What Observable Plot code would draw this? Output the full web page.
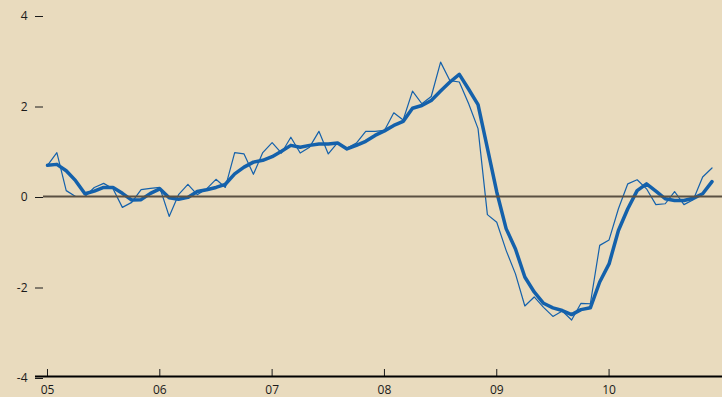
<!DOCTYPE html>
<html><head><meta charset="utf-8">
<script src="https://cdn.jsdelivr.net/npm/d3@7"></script>
<script src="https://cdn.jsdelivr.net/npm/@observablehq/plot@0.6"></script>
<style>
html,body{margin:0;padding:0;background:#E9DBBE;}
#chart svg{display:block;}
</style></head><body><div id="chart"></div>
<script>
const startYear = 2005;
const yearTicks = [2005, 2006, 2007, 2008, 2009, 2010];
const yearLabels = ["05", "06", "07", "08", "09", "10"];
const yTicks = [-4, -2, 0, 2, 4];
const monthly = [
  0.69, 0.97, 0.13, 0.00, 0.00, 0.20, 0.29, 0.17, -0.24, -0.13, 0.15, 0.18,
  0.20, -0.44, 0.04, 0.27, 0.04, 0.17, 0.38, 0.20, 0.97, 0.94, 0.49, 0.97,
  1.19, 0.96, 1.31, 0.96, 1.09, 1.44, 0.94, 1.19, 1.07, 1.18, 1.44, 1.44,
  1.46, 1.85, 1.69, 2.33, 2.05, 2.21, 2.97, 2.56, 2.53, 2.05, 1.50, -0.40,
  -0.57, -1.19, -1.71, -2.42, -2.22, -2.45, -2.65, -2.53, -2.73, -2.36, -2.37, -1.08,
  -0.96, -0.27, 0.28, 0.37, 0.17, -0.18, -0.16, 0.11, -0.18, -0.07, 0.43, 0.63
];
const average = [
  0.69, 0.71, 0.57, 0.35, 0.06, 0.12, 0.20, 0.20, 0.07, -0.08, -0.07, 0.07,
  0.17, -0.03, -0.06, -0.02, 0.11, 0.15, 0.20, 0.27, 0.50, 0.65, 0.76, 0.80,
  0.88, 1.00, 1.13, 1.09, 1.13, 1.16, 1.16, 1.18, 1.05, 1.13, 1.22, 1.35,
  1.45, 1.57, 1.66, 1.95, 2.01, 2.12, 2.33, 2.53, 2.70, 2.37, 2.03, 1.07,
  0.10, -0.71, -1.16, -1.78, -2.11, -2.36, -2.46, -2.52, -2.61, -2.50, -2.46, -1.89,
  -1.49, -0.75, -0.27, 0.13, 0.28, 0.12, -0.05, -0.09, -0.09, -0.04, 0.06, 0.33
];
const data = monthly.map((v, i) => ({t: startYear + i / 12, monthly: v, average: average[i]}));
const blue = "#1461AB";
const plot = Plot.plot({
  width: 722, height: 397,
  marginLeft: 43, marginRight: 0, marginTop: 15, marginBottom: 20,
  style: {background: "#E9DBBE", fontFamily: "'Open Sans', sans-serif", fontSize: "12px", color: "#1a1a1a"},
  x: {domain: [2004.9644, 2011.01]},
  y: {domain: [-4, 4]},
  marks: [
    Plot.axisY(yTicks, {tickSize: 8, tickPadding: 8, tickFormat: d => String(d), label: null, dy: 1}),
    Plot.axisX(yearTicks, {tickSize: 7, dy: -8, fill: "none", label: null}),
    Plot.axisX(yearTicks, {tickSize: 0, tickPadding: 8, tickFormat: d => yearLabels[yearTicks.indexOf(d)], label: null}),
    Plot.ruleY([-4], {stroke: "#000", strokeWidth: 2, insetLeft: -8, dy: -1}),
    Plot.lineY(data, {x: "t", y: "monthly", stroke: blue, strokeWidth: 1.2}),
    Plot.lineY(data, {x: "t", y: "average", stroke: blue, strokeWidth: 3.5}),
    Plot.ruleY([0], {stroke: "#5A5042", strokeWidth: 2})
  ]
});
document.getElementById("chart").appendChild(plot);
</script></body></html>
